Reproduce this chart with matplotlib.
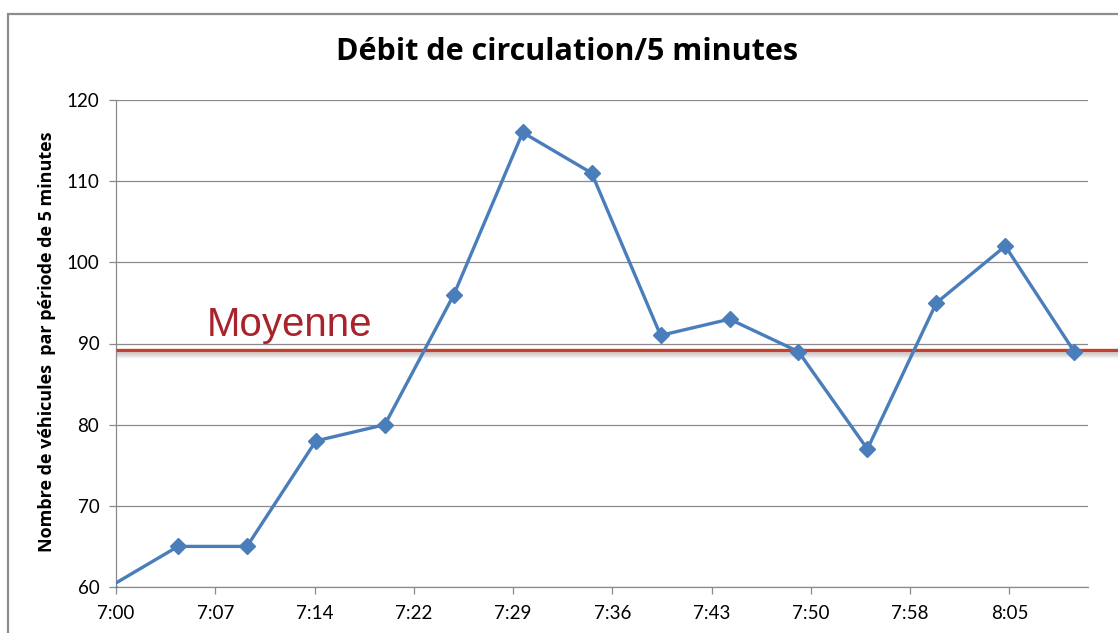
import matplotlib
matplotlib.use("Agg")
import matplotlib.pyplot as plt
from matplotlib.patches import Rectangle
import matplotlib.transforms as mtransforms

# Data: minutes after 7:00 and vehicle counts per 5 minutes
minutes = [-0.5, 4.5, 9.5, 14.5, 19.5, 24.5, 29.5, 34.5, 39.5, 44.5, 49.5, 54.5, 59.5, 64.5, 69.5]
counts = [60, 65, 65, 78, 80, 96, 116, 111, 91, 93, 89, 77, 95, 102, 89]
moyenne = 89.2

tick_pos = [0, 7.2, 14.4, 21.6, 28.8, 36.0, 43.2, 50.4, 57.6, 64.8]
tick_labels = ["7:00", "7:07", "7:14", "7:22", "7:29", "7:36", "7:43", "7:50", "7:58", "8:05"]
y_ticks = [60, 70, 80, 90, 100, 110, 120]

W, H = 1118, 633
fig = plt.figure(figsize=(W / 100, H / 100), dpi=100)
fig.patch.set_facecolor("white")

# chart area border
fig.patches.append(Rectangle((8 / W, -0.1), 1.2, 1 - 14 / H + 0.1, transform=fig.transFigure,
                             fill=False, edgecolor="#8c8c8c", linewidth=1.6))

ax = fig.add_axes([116 / W, 1 - 587 / H, (1088 - 116) / W, (587 - 100) / H])
ax.set_xlim(0, 70.5)
ax.set_ylim(60, 120)

grid_c = "#8a8a8a"
for y in y_ticks:
    ax.axhline(y, color=grid_c, lw=0.9, zorder=1)
for s in ["top", "right"]:
    ax.spines[s].set_visible(False)
for s in ["left", "bottom"]:
    ax.spines[s].set_color(grid_c)
    ax.spines[s].set_linewidth(0.9)

ax.set_xticks(tick_pos)
ax.set_xticklabels(tick_labels)
ax.set_yticks(y_ticks)
ax.tick_params(axis="both", colors=grid_c, length=5, width=0.9, labelcolor="black",
               labelsize=13.5)
ax.tick_params(axis="x", pad=8)
ax.tick_params(axis="y", pad=7)
for lab in ax.get_xticklabels() + ax.get_yticklabels():
    lab.set_family("Lato")

# Moyenne line with shadow, extending to the figure edge
trans = mtransforms.blended_transform_factory(ax.transAxes, ax.transData)
x_end = (W - 116) / (1088 - 116)
for i, a in enumerate([0.22, 0.16, 0.10, 0.05]):
    off = mtransforms.offset_copy(trans, fig=fig, x=0, y=-(2.5 + i * 1.5), units="dots")
    ax.plot([0, x_end], [moyenne, moyenne], color="#7a7a7a", lw=2.5, alpha=a,
            transform=off, clip_on=False, zorder=2, solid_capstyle="butt")
ax.plot([0, x_end], [moyenne, moyenne], color="#c4412f", lw=2.4, transform=trans,
        clip_on=False, zorder=3, solid_capstyle="butt")

ax.plot(minutes, counts, color="#4a7ebb", lw=2.4, marker="D", markersize=8.5,
        markerfacecolor="#4a7ebb", markeredgecolor="#4a7ebb", zorder=4, clip_on=True)

ax.text(6.6, 89.9, "Moyenne", color="#a8232b", fontsize=29, family="Liberation Sans",
        ha="left", va="bottom", zorder=5)

fig.text(567 / W, 1 - 52 / H, "Débit de circulation/5 minutes", ha="center", va="center",
         fontsize=22, fontweight="bold", family="Open Sans")
fig.text(47 / W, 1 - 342 / H, "Nombre de véhicules  par période de 5 minutes", rotation=90,
         ha="center", va="center", fontsize=13, fontweight="bold", family="Open Sans")

fig.savefig("out.png", dpi=100)
